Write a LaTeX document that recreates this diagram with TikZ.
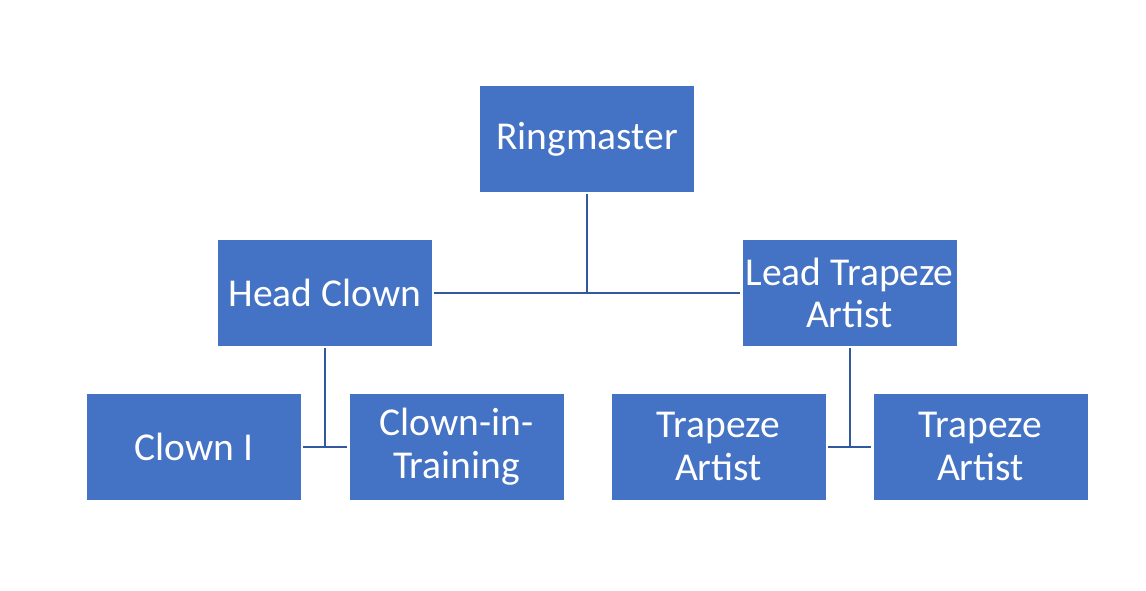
\documentclass[tikz,border=0pt]{standalone}
\usepackage{fontspec}
\setmainfont{Carlito}
\definecolor{boxblue}{HTML}{4472C4}
\definecolor{lineblue}{HTML}{3259A0}
\begin{document}
\begin{tikzpicture}[x=1pt,y=-1pt,
 orgbox/.style={fill=boxblue, text=white, minimum width=214pt, minimum height=106pt, inner sep=0pt, align=center, font=\fontsize{39.5}{42.5}\selectfont},
 stem/.style={draw=lineblue, line width=2pt, shorten <=2pt},
 bar/.style={draw=lineblue, line width=2pt, shorten <=2pt, shorten >=2pt}]
\useasboundingbox (0,0) rectangle (1146,590);
\node[orgbox] (ring) at (587,139) {Ringmaster};
\node[orgbox] (head) at (325,293) {Head Clown};
\node[orgbox] (lead) at (849.5,293) {Lead Trapeze\\Artist};
\node[orgbox] (c1) at (194,446.5) {Clown I};
\node[orgbox] (cit) at (456.5,446.5) {Clown-in-\\Training};
\node[orgbox] (ta1) at (718.5,446.5) {Trapeze\\Artist};
\node[orgbox] (ta2) at (980.5,446.5) {Trapeze\\Artist};
\coordinate (j1) at (ring.south |- head.east);
\coordinate (j2) at (head.south |- c1.east);
\coordinate (j3) at (lead.south |- ta1.east);
\draw[stem] (ring.south) -- (j1);
\draw[bar] (head.east) -- (lead.west);
\draw[stem] (head.south) -- (j2);
\draw[bar] (c1.east) -- (cit.west);
\draw[stem] (lead.south) -- (j3);
\draw[bar] (ta1.east) -- (ta2.west);
\end{tikzpicture}
\end{document}
